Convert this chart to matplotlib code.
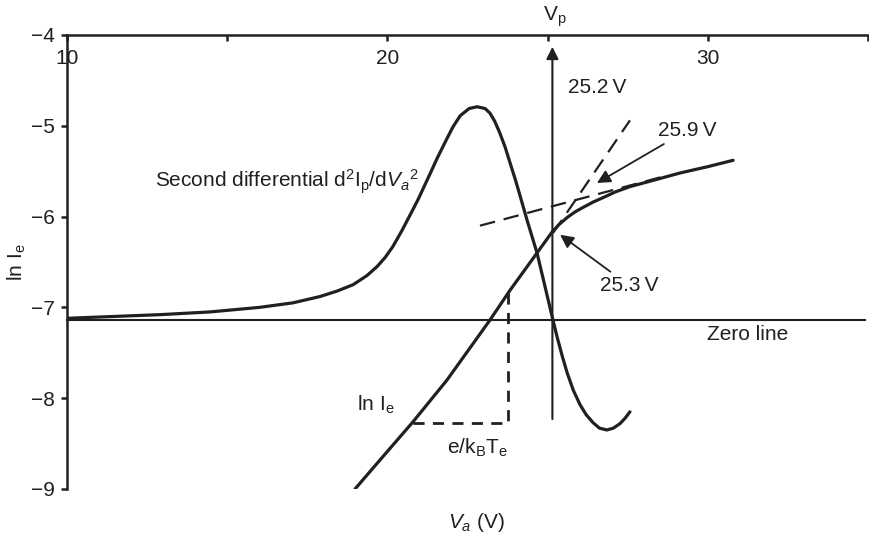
import matplotlib
matplotlib.use('Agg')
import matplotlib.pyplot as plt
import numpy as np

# --- 設定 ---
plt.rcParams['font.family'] = ['Liberation Sans', 'DejaVu Sans']
plt.rcParams['mathtext.fontset'] = 'custom'
plt.rcParams['mathtext.rm'] = 'Liberation Sans'
plt.rcParams['mathtext.it'] = 'Liberation Sans:italic'
plt.rcParams['mathtext.bf'] = 'Liberation Sans:bold'

ink = '#231f20'
fs = 15

# --- データ ---
# second differential d2Ip/dVa2 (arbitrary scale, drawn on the ln Ie axis)
sd_x = [10.0, 12.9, 14.46, 16.0, 17.05, 17.9, 18.43, 18.93, 19.36, 19.68, 19.93,
        20.17, 20.46, 20.8, 20.96, 21.33, 21.55, 21.86, 22.05, 22.27, 22.55,
        22.8, 23.05, 23.2, 23.35, 23.51, 23.67, 23.83, 24.0, 24.14, 24.36,
        24.67, 24.98, 25.14, 25.3, 25.46, 25.61, 25.8, 26.01, 26.2,
        26.42, 26.62, 26.85, 27.05, 27.26, 27.42, 27.57]
sd_y = [-7.12, -7.08, -7.05, -7.0, -6.95, -6.88, -6.82, -6.75, -6.65, -6.55, -6.45,
        -6.33, -6.15, -5.92, -5.81, -5.53, -5.36, -5.14, -5.01, -4.89, -4.81,
        -4.79, -4.81, -4.86, -4.95, -5.08, -5.23, -5.41, -5.60, -5.77, -6.04,
        -6.40, -6.86, -7.10, -7.33, -7.54, -7.72, -7.91, -8.07, -8.18,
        -8.27, -8.33, -8.35, -8.33, -8.28, -8.22, -8.15]

# ln Ie
lnI_x = [18.99, 19.77, 20.8, 21.86, 23.2, 23.83, 24.67, 25.14, 25.35, 25.61,
         25.85, 26.1, 26.42, 26.8, 27.1, 27.57, 28.2, 29.13, 30.0, 30.79]
lnI_y = [-9.0, -8.68, -8.26, -7.80, -7.14, -6.81, -6.40, -6.17, -6.09, -6.01,
         -5.95, -5.90, -5.84, -5.78, -5.73, -5.67, -5.61, -5.52, -5.45, -5.38]

# 接線 (破線)
steep_x = [25.17, 27.57]
steep_y = [-6.18, -4.94]
shallow_x = [22.89, 28.6]
shallow_y = [-6.10, -5.56]

# e/kBTe の三角形
tri_x = [20.8, 23.76, 23.76]
tri_y = [-8.27, -8.27, -6.81]

zero_level = -7.14
v_plasma = 25.15
vp_bottom = -8.23

xticks = [10, 15, 20, 25, 30, 35]
xtick_labels = ['10', '', '20', '', '30', '']
yticks = [-4, -5, -6, -7, -8, -9]

# --- プロット準備 ---
fig = plt.figure(figsize=(8.7, 5.46), dpi=100)
ax = fig.add_axes([0.077, 0.1044, 0.9207, 0.8315])

ax.plot(sd_x, sd_y, color=ink, lw=2.3, solid_capstyle='round', solid_joinstyle='round')
ax.plot(lnI_x, lnI_y, color=ink, lw=2.3, solid_capstyle='round', solid_joinstyle='round')
ax.plot(steep_x, steep_y, color=ink, lw=1.6, dashes=(7, 4))
ax.plot(shallow_x, shallow_y, color=ink, lw=1.6, dashes=(7, 4))
ax.plot(tri_x, tri_y, color=ink, lw=2.0, dashes=(4, 3))

# zero line
ax.plot([10, 34.9], [zero_level, zero_level], color=ink, lw=1.5, clip_on=False)

# Vp の矢印
ax.annotate('', xy=(v_plasma, -4.13), xytext=(v_plasma, vp_bottom),
            arrowprops=dict(arrowstyle='-|>', color=ink, lw=1.5,
                            mutation_scale=18, shrinkA=0, shrinkB=0),
            annotation_clip=False)

# 25.9 V / 25.3 V の矢印
ax.annotate('25.9\u2009V', xy=(26.54, -5.63), xytext=(28.45, -5.05),
            fontsize=fs, color=ink, va='center', ha='left',
            arrowprops=dict(arrowstyle='-|>', color=ink, lw=1.3,
                            mutation_scale=20, shrinkA=2, shrinkB=0))
ax.annotate('25.3\u2009V', xy=(25.39, -6.20), xytext=(26.64, -6.76),
            fontsize=fs, color=ink, va='center', ha='left',
            arrowprops=dict(arrowstyle='-|>', color=ink, lw=1.3,
                            mutation_scale=20, shrinkA=2, shrinkB=0))

# --- テキスト ---
ax.text(25.23, -3.80, r'V$_{\mathrm{p}}$', fontsize=fs, color=ink,
        ha='center', va='center', clip_on=False)
ax.text(25.64, -4.58, '25.2\u2009V', fontsize=fs, color=ink, ha='left', va='center')
ax.text(12.75, -5.62,
        r'Second differential d$^{\mathrm{2}}$I$_{\mathrm{p}}$/d$V_{a}{}^{\mathrm{2}}$',
        fontsize=fs, color=ink, ha='left', va='center')
ax.text(19.05, -8.07, r'ln I$_{\mathrm{e}}$', fontsize=fs, color=ink, ha='left', va='center')
ax.text(21.86, -8.55, r'e/k$_{\mathrm{B}}$T$_{\mathrm{e}}$', fontsize=fs, color=ink,
        ha='left', va='center')
ax.text(29.97, -7.30, 'Zero line', fontsize=fs, color=ink, ha='left', va='center')

# --- 軸の体裁 ---
ax.set_xlim(10, 35)
ax.set_ylim(-9, -4)
for side in ['right', 'bottom']:
    ax.spines[side].set_visible(False)
for side in ['left', 'top']:
    ax.spines[side].set_linewidth(1.8)
    ax.spines[side].set_color(ink)

ax.set_xticks(xticks)
ax.set_xticklabels(xtick_labels)
ax.tick_params(axis='x', top=True, bottom=False, labeltop=True, labelbottom=False,
               direction='in', length=4, width=1.8, color=ink,
               pad=-24, labelsize=fs, labelcolor=ink)
ax.set_yticks(yticks)
ax.tick_params(axis='y', direction='out', length=4, width=1.8, color=ink,
               pad=5, labelsize=fs, labelcolor=ink)

ax.set_ylabel(r'ln I$_{\mathrm{e}}$', fontsize=fs, color=ink, labelpad=2)
fig.text(476 / 870, 1 - 523 / 546, r'$V_a$ (V)', fontsize=fs, color=ink,
         ha='center', va='center')

plt.savefig('out.png', dpi=100)
